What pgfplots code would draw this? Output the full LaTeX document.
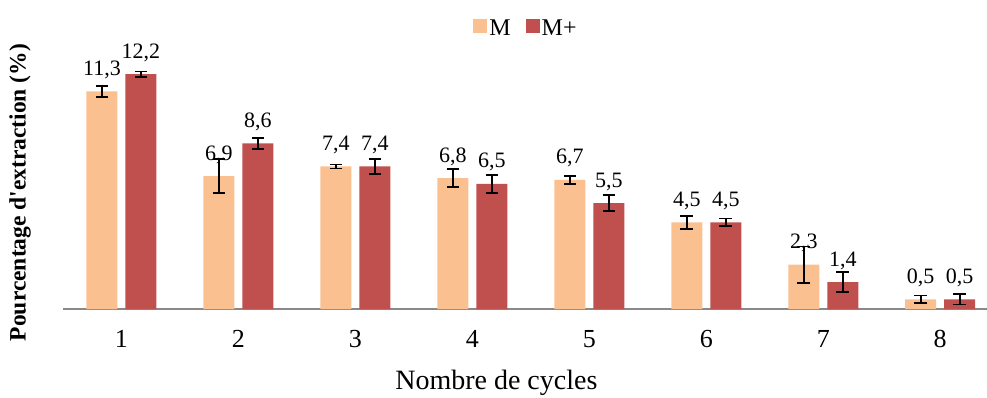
\documentclass[border=0pt]{standalone}
\usepackage{fontspec}
\setmainfont{Liberation Serif}
\usepackage{pgfplots}
\usepackage{pgfplotstable}
\pgfplotsset{compat=1.18}

\definecolor{colM}{HTML}{FAC090}
\definecolor{colMp}{HTML}{C0504D}
\definecolor{axgray}{HTML}{898989}

% cycle, mean, error
\pgfplotstableread{
x y err
1 11.3 0.29
2 6.9 0.88
3 7.4 0.11
4 6.8 0.48
5 6.7 0.20
6 4.5 0.33
7 2.3 0.95
8 0.5 0.20
}\dataM
\pgfplotstableread{
x y err
1 12.2 0.14
2 8.6 0.28
3 7.4 0.38
4 6.5 0.47
5 5.5 0.41
6 4.5 0.20
7 1.4 0.52
8 0.5 0.27
}\dataMp

\begin{document}
\begin{tikzpicture}
\begin{axis}[
    scale only axis,
    width=924pt, height=269.6pt,
    ybar=8pt, bar width=31pt,
    xmin=0.5, xmax=8.4,
    ymin=0, ymax=14,
    axis x line*=bottom, axis y line*=left,
    axis line style={-},
    x axis line style={draw=axgray, line width=1.5pt},
    y axis line style={draw=none},
    ytick=\empty,
    xtick={1,2,3,4,5,6,7,8},
    major tick length=0pt,
    xtick style={draw=none},
    /pgf/number format/assume math mode=true,
    xticklabel style={font=\fontsize{26}{30}\selectfont, anchor=north, inner sep=0pt, yshift=-21pt},
    xlabel={Nombre de cycles},
    xlabel style={font=\fontsize{28}{32}\selectfont, at={(axis description cs:0.469,-0.300)}, anchor=base},
    ylabel={Pourcentage d\textquotesingle extraction (\%)},
    ylabel style={font=\bfseries\fontsize{23.5}{27}\selectfont, at={(axis description cs:-0.0465,0.432)}, anchor=center},
    legend style={at={(axis description cs:0.501,1.042)}, anchor=center, draw=none, fill=none,
        font=\fontsize{24}{28}\selectfont, nodes={inner sep=2pt},
        /tikz/every even column/.append style={column sep=13pt}},
    legend columns=2,
    nodes near coords={\pgfmathprintnumber[fixed,fixed zerofill,precision=1,use comma,assume math mode=true]{\pgfplotspointmeta}},
    nodes near coords style={font=\fontsize{22}{26}\selectfont, anchor=base, inner sep=0pt, yshift=16pt, black},
    error bars/error bar style={black, line width=1.6pt},
    error bars/error mark options={rotate=90, mark size=6.3pt, black, line width=1.6pt},
]
\addplot[fill=colM, draw=none,
    legend image code/.code={\fill[colM] (0pt,-5pt) rectangle (14pt,9pt);},
    error bars/.cd, y dir=both, y explicit]
    table[x=x, y=y, y error=err] {\dataM};
\addplot[fill=colMp, draw=none,
    legend image code/.code={\fill[colMp] (0pt,-5pt) rectangle (14pt,9pt);},
    error bars/.cd, y dir=both, y explicit]
    table[x=x, y=y, y error=err] {\dataMp};
\legend{M, M+}
\end{axis}
\pgfresetboundingbox
\path[use as bounding box] (current axis.south west) ++(-63pt,-88pt) rectangle ++(987pt,397pt);
\end{tikzpicture}
\end{document}
